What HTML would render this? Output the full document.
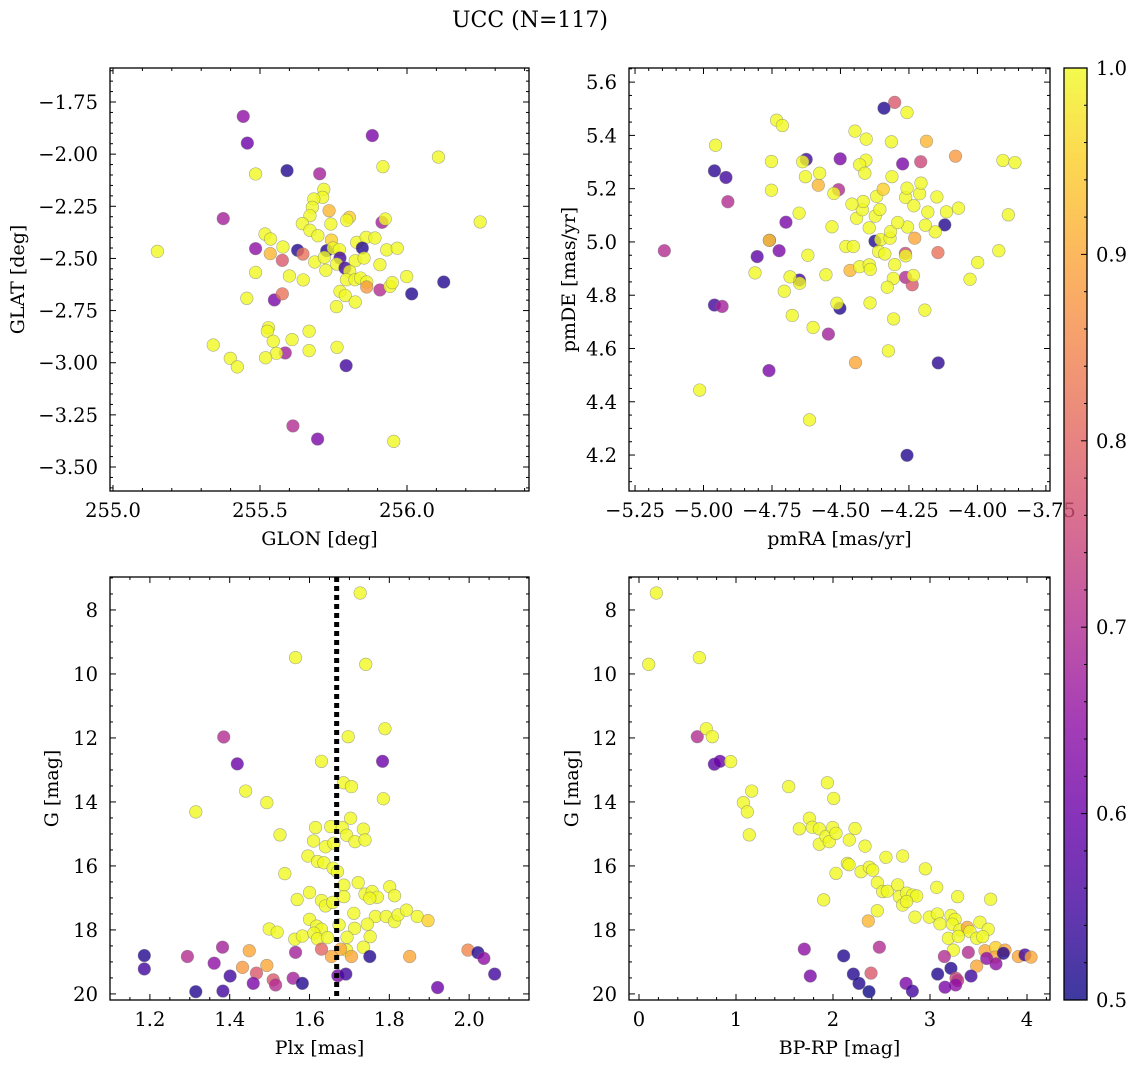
<!DOCTYPE html>
<html><head><meta charset="utf-8"><title>UCC chart</title>
<style>
html,body{margin:0;padding:0;background:#fff;}
svg{display:block;font-family:"DejaVu Serif","Liberation Serif",serif;}
</style></head>
<body>
<svg id="fig" width="1136" height="1067" viewBox="0 0 1136 1067" xmlns="http://www.w3.org/2000/svg">
<defs>
<linearGradient id="plasma" x1="0" y1="1" x2="0" y2="0">
<stop offset="0" stop-color="#0d0887"/><stop offset="0.1" stop-color="#41049d"/><stop offset="0.2" stop-color="#6a00a8"/><stop offset="0.3" stop-color="#8f0da4"/><stop offset="0.4" stop-color="#b12a90"/><stop offset="0.5" stop-color="#cc4778"/><stop offset="0.6" stop-color="#e16462"/><stop offset="0.7" stop-color="#f2844b"/><stop offset="0.8" stop-color="#fca636"/><stop offset="0.9" stop-color="#fcce25"/><stop offset="1" stop-color="#f0f921"/>
</linearGradient>
</defs>
<text x="530" y="27" font-size="22" text-anchor="middle">UCC (N=117)</text>
</svg>
<script>
// ---- Panel 1: GLON / GLAT ----
const glon = [255.443,255.457,255.882,256.107,255.918,255.485,255.592,255.703,255.717,255.713,255.683,255.678,255.735,255.670,255.644,255.741,255.804,255.795,255.915,255.926,256.249,255.375,255.151,255.517,255.536,255.485,255.535,255.578,255.576,255.628,255.646,255.670,255.697,255.743,255.727,255.749,255.770,255.829,255.861,255.891,255.848,255.931,255.967,255.686,255.719,255.724,255.772,255.761,255.789,255.824,255.854,255.908,255.805,255.794,255.823,255.842,255.863,255.863,255.908,255.942,255.950,255.999,256.125,256.016,255.485,255.600,255.647,255.455,255.549,255.576,255.772,255.790,255.824,255.760,255.529,255.525,255.667,255.609,255.545,255.341,255.586,255.556,255.519,255.399,255.423,255.667,255.762,255.793,255.612,255.696,255.955];
const glat = [-1.819,-1.947,-1.911,-2.014,-2.060,-2.095,-2.079,-2.094,-2.169,-2.207,-2.215,-2.255,-2.271,-2.295,-2.333,-2.335,-2.303,-2.317,-2.327,-2.311,-2.325,-2.309,-2.466,-2.383,-2.407,-2.453,-2.477,-2.445,-2.509,-2.461,-2.479,-2.365,-2.391,-2.412,-2.463,-2.450,-2.458,-2.423,-2.399,-2.402,-2.450,-2.459,-2.451,-2.517,-2.495,-2.557,-2.498,-2.527,-2.546,-2.511,-2.498,-2.530,-2.562,-2.602,-2.602,-2.594,-2.613,-2.637,-2.651,-2.634,-2.616,-2.587,-2.613,-2.670,-2.567,-2.584,-2.603,-2.691,-2.699,-2.670,-2.658,-2.678,-2.709,-2.731,-2.832,-2.849,-2.849,-2.889,-2.897,-2.915,-2.953,-2.955,-2.976,-2.979,-3.020,-2.942,-2.926,-3.014,-3.303,-3.366,-3.377];
const prob1 = [0.65,0.6,0.62,1,1,1,0.52,0.68,1,1,1,1,0.92,1,1,1,0.95,1,0.68,1,1,0.68,1,1,1,0.65,0.92,1,0.78,0.52,0.82,1,1,0.95,0.52,1,1,1,1,1,0.52,1,1,1,1,1,0.55,1,0.55,1,1,1,1,1,1,1,1,0.88,0.7,1,1,1,0.52,0.52,1,1,1,1,0.62,0.82,1,1,1,1,1,1,1,1,1,1,0.68,1,1,1,1,1,1,0.55,0.7,0.62,1];
// ---- Panel 2: pmRA / pmDE ----
const pmra = [-5.143,-4.960,-4.918,-4.911,-4.956,-4.960,-4.932,-5.014,-4.761,-4.613,-4.257,-4.143,-4.445,-4.325,-4.544,-4.600,-4.676,-4.306,-4.192,-4.392,-4.502,-4.513,-4.705,-4.650,-4.649,-4.684,-4.812,-4.553,-4.465,-4.430,-4.395,-4.391,-4.307,-4.329,-4.262,-4.238,-4.234,-4.302,-4.804,-4.724,-4.619,-4.759,-4.760,-4.699,-4.651,-4.531,-4.480,-4.453,-4.374,-4.353,-4.319,-4.317,-4.361,-4.338,-4.263,-4.262,-4.229,-4.144,-4.119,-4.154,-4.190,-4.255,-4.291,-4.395,-4.373,-4.441,-4.420,-4.417,-4.458,-4.356,-4.368,-4.344,-4.312,-4.262,-4.257,-4.232,-4.211,-4.206,-4.181,-4.148,-4.113,-4.069,-3.999,-4.027,-3.922,-3.887,-3.907,-3.863,-4.080,-4.186,-4.207,-4.273,-4.257,-4.302,-4.341,-4.314,-4.447,-4.406,-4.407,-4.430,-4.411,-4.501,-4.507,-4.524,-4.581,-4.576,-4.628,-4.625,-4.638,-4.752,-4.752,-4.733,-4.712];
const pmde = [4.967,5.267,5.242,5.151,5.363,4.763,4.758,4.444,4.517,4.332,4.199,4.546,4.547,4.591,4.654,4.679,4.724,4.711,4.744,4.771,4.751,4.770,4.815,4.857,4.845,4.869,4.884,4.877,4.893,4.907,4.914,4.897,4.863,4.830,4.867,4.839,4.874,4.915,4.945,4.967,4.950,5.006,5.006,5.074,5.108,5.057,4.983,4.983,5.003,5.009,5.014,5.039,4.964,4.955,4.957,4.948,5.014,4.960,5.064,5.038,5.063,5.056,5.073,5.053,5.097,5.089,5.121,5.152,5.142,5.122,5.171,5.198,5.245,5.167,5.202,5.136,5.181,5.221,5.112,5.169,5.113,5.127,4.923,4.860,4.967,5.102,5.306,5.298,5.322,5.378,5.301,5.293,5.486,5.524,5.502,5.376,5.416,5.386,5.307,5.290,5.258,5.312,5.196,5.182,5.213,5.258,5.245,5.310,5.301,5.302,5.194,5.457,5.437];
const prob2 = [0.7,0.53,0.55,0.7,1,0.55,0.68,1,0.62,1,0.52,0.53,0.9,1,0.68,1,1,1,1,1,0.52,1,1,0.55,1,1,1,1,0.92,1,1,1,1,1,0.7,0.78,1,1,0.58,0.62,1,0.65,0.95,0.62,1,1,1,1,0.52,1,1,1,1,1,0.75,1,0.9,0.82,0.52,1,1,1,1,1,1,1,1,1,1,1,1,0.95,1,1,1,1,1,1,1,1,1,1,1,1,1,1,1,1,0.88,0.92,0.75,0.62,1,0.78,0.52,1,1,1,1,1,1,0.62,0.7,1,0.92,1,1,0.55,1,1,1,1,1];
// ---- Panel 3: Plx / G ----
const plx = [1.727,1.565,1.741,1.385,1.419,1.789,1.697,1.783,1.630,1.440,1.493,1.315,1.785,1.685,1.705,1.526,1.615,1.653,1.682,1.703,1.735,1.693,1.714,1.739,1.610,1.640,1.661,1.596,1.620,1.636,1.659,1.670,1.538,1.686,1.722,1.739,1.757,1.770,1.801,1.813,1.751,1.600,1.569,1.630,1.640,1.658,1.686,1.711,1.765,1.792,1.813,1.822,1.843,1.870,1.897,1.600,1.618,1.630,1.674,1.713,1.745,1.499,1.519,1.563,1.582,1.611,1.620,1.645,1.694,1.752,1.735,1.693,1.678,1.655,1.705,1.630,1.565,1.751,1.851,1.997,2.022,2.037,2.064,1.921,1.186,1.186,1.294,1.382,1.361,1.449,1.432,1.493,1.401,1.467,1.459,1.509,1.515,1.559,1.582,1.315,1.383,1.671,1.691];
const gmag3 = [7.47,9.49,9.70,11.97,12.81,11.71,11.96,12.73,12.73,13.66,14.02,14.31,13.90,13.40,13.52,15.03,14.80,14.77,14.80,14.51,14.85,15.04,15.24,15.19,15.22,15.40,15.29,15.69,15.86,15.90,16.07,16.18,16.24,16.60,16.52,16.88,16.80,16.98,16.65,16.93,17.01,16.83,17.05,17.08,17.25,17.14,16.96,17.48,17.58,17.58,17.74,17.53,17.38,17.58,17.71,17.67,17.88,17.98,17.84,17.95,17.82,17.97,18.07,18.29,18.19,18.10,18.28,18.24,18.23,18.21,18.54,18.63,18.60,18.83,18.83,18.60,18.70,18.83,18.83,18.63,18.71,18.89,19.38,19.80,18.80,19.22,18.83,18.54,19.04,18.65,19.17,19.11,19.44,19.35,19.67,19.56,19.72,19.51,19.67,19.93,19.91,19.43,19.38];
const prob3 = [1,1,1,0.7,0.6,1,1,0.6,1,1,1,1,1,1,1,1,1,1,1,1,1,1,1,1,1,1,1,1,1,1,1,1,1,1,1,1,1,1,1,1,1,1,1,1,1,1,1,1,1,1,1,1,1,1,0.95,1,1,1,1,1,1,1,1,1,1,1,1,1,1,1,1,1,0.9,0.9,0.9,0.8,0.68,0.52,0.9,0.85,0.52,0.65,0.55,0.6,0.52,0.55,0.7,0.68,0.65,0.9,0.88,0.9,0.55,0.78,0.62,0.78,0.7,0.68,0.52,0.52,0.55,0.62,0.55];
const plxLine = 1.668;
// ---- Panel 4: BP-RP / G ----
const bprp = [0.179,0.100,0.622,0.601,0.694,0.756,0.777,0.835,0.945,1.076,1.162,1.117,1.137,1.543,1.942,2.007,1.653,1.756,1.787,1.859,1.859,1.928,1.962,1.997,2.031,2.227,2.168,2.330,2.546,2.718,2.148,2.165,2.031,2.289,2.375,2.409,2.457,2.512,2.560,2.667,2.684,2.759,2.821,2.863,2.718,2.759,2.952,3.069,1.904,2.457,2.364,2.845,2.993,3.076,3.103,3.216,3.258,3.230,3.285,3.309,3.189,3.292,3.385,3.412,3.481,3.515,3.601,3.543,3.625,3.241,3.567,3.677,3.773,3.670,3.756,3.911,3.979,4.041,3.481,3.584,3.680,3.395,3.148,3.216,3.079,3.268,3.285,3.264,3.155,3.423,1.704,1.766,2.110,2.210,2.268,2.371,2.392,2.478,2.753,2.818];
const gmag4 = [7.47,9.70,9.49,11.96,11.71,11.96,12.82,12.73,12.74,14.02,13.66,14.31,15.03,13.52,13.40,13.89,14.84,14.51,14.79,14.84,15.32,15.08,15.24,14.80,14.98,14.83,15.19,15.38,15.73,15.69,15.92,15.96,16.23,16.18,16.04,16.13,16.52,16.80,16.79,16.59,16.96,16.85,16.91,16.94,17.22,17.11,16.09,16.67,17.06,17.40,17.72,17.60,17.60,17.50,17.81,17.55,17.67,17.82,16.96,18.00,18.26,18.20,17.92,18.05,18.26,17.76,17.98,18.21,17.04,18.63,18.65,18.55,18.63,18.85,18.73,18.83,18.78,18.85,19.13,18.89,19.06,18.70,18.83,19.20,19.38,19.51,19.58,19.72,19.79,19.44,18.60,19.44,18.81,19.38,19.67,19.93,19.35,18.54,19.67,19.91];
const prob4 = [1,1,1,0.7,1,1,0.58,0.6,1,1,1,1,1,1,1,1,1,1,1,1,1,1,1,1,1,1,1,1,1,1,1,1,1,1,1,1,1,1,1,1,1,1,1,1,1,1,1,1,1,1,0.92,1,1,1,1,1,1,1,1,1,1,1,0.9,1,1,1,1,1,1,1,0.9,0.95,0.9,0.9,0.52,0.9,0.55,0.9,0.9,0.65,0.65,0.7,0.7,0.52,0.52,0.75,0.72,0.65,0.62,0.55,0.65,0.62,0.52,0.52,0.52,0.5,0.78,0.7,0.62,0.55];
// ---- tick labels ----
const p1xTicks = [255.0,255.5,256.0];
const p1yTicks = [-1.75,-2.00,-2.25,-2.50,-2.75,-3.00,-3.25,-3.50];
const p2xTicks = [-5.25,-5.00,-4.75,-4.50,-4.25,-4.00,-3.75];
const p2yTicks = [4.2,4.4,4.6,4.8,5.0,5.2,5.4,5.6];
const p3xTicks = [1.2,1.4,1.6,1.8,2.0];
const gTicks = [8,10,12,14,16,18,20];
const p4xTicks = [0,1,2,3,4];
const cbTicks = [0.5,0.6,0.7,0.8,0.9,1.0];

const NS = "http://www.w3.org/2000/svg";
const svg = document.getElementById('fig');
const TFS = 19.5, LFS = 19;
function mk(tag, attrs, parent){const e=document.createElementNS(NS,tag);for(const k in attrs)e.setAttribute(k,attrs[k]);(parent||svg).appendChild(e);return e;}
const stops=[[0,[13,8,135]],[0.1,[65,4,157]],[0.2,[106,0,168]],[0.3,[143,13,164]],[0.4,[177,42,144]],[0.5,[204,71,120]],[0.6,[225,100,98]],[0.7,[242,132,75]],[0.8,[252,166,54]],[0.9,[252,206,37]],[1,[240,249,33]]];
function plasma(p){let t=Math.max(0,Math.min(1,(p-0.5)/0.5));for(let i=0;i<stops.length-1;i++){const a=stops[i],b=stops[i+1];if(t<=b[0]){const f=(t-a[0])/(b[0]-a[0]);const c=a[1].map((v,j)=>Math.round(v+(b[1][j]-v)*f));return `rgb(${c[0]},${c[1]},${c[2]})`;}}return 'rgb(240,249,33)';}
function fmt(v,d){return (v<0?'\u2212':'')+Math.abs(v).toFixed(d);}

function panel(o){
  const g=mk('g',{});
  
  
  const sx=v=>o.x0+(v-o.xmin)/(o.xmax-o.xmin)*(o.x1-o.x0);
  const sy=o.yinv? v=>o.y0+(v-o.ymin)/(o.ymax-o.ymin)*(o.y1-o.y0) : v=>o.y1-(v-o.ymin)/(o.ymax-o.ymin)*(o.y1-o.y0);
  const pg=mk('g',{},g);
  
  
  for(let i=0;i<o.xs.length;i++){
    const c=mk('circle',{cx:sx(o.xs[i]),cy:sy(o.ys[i]),r:6.3,fill:plasma(o.ps[i]),'fill-opacity':0.8,stroke:'#777','stroke-opacity':0.6,'stroke-width':0.6},pg);
    
    
  }
  if(o.vline!==undefined){
    const l=mk('line',{x1:sx(o.vline),x2:sx(o.vline),y1:o.y0,y2:o.y1,stroke:'#000','stroke-width':5,'stroke-dasharray':'5,4'},g);
    
    
  }
  const tg=mk('g',{stroke:'#000','stroke-width':1},g);
  
  
  for(let v=Math.ceil(o.xmin/o.xminor-1e-6)*o.xminor; v<=o.xmax+1e-9; v+=o.xminor){
    const X=sx(v); if(X<o.x0-0.5||X>o.x1+0.5)continue;
    const major=o.xt.some(t=>Math.abs(t-v)<o.xminor/10);const L=major?6:3;
    mk('line',{x1:X,x2:X,y1:o.y1,y2:o.y1-L},tg);mk('line',{x1:X,x2:X,y1:o.y0,y2:o.y0+L},tg);
  }
  for(let v=Math.ceil(o.ymin/o.yminor-1e-6)*o.yminor; v<=o.ymax+1e-9; v+=o.yminor){
    const Y=sy(v); if(Y<o.y0-0.5||Y>o.y1+0.5)continue;
    const major=o.yt.some(t=>Math.abs(t-v)<o.yminor/10);const L=major?6:3;
    mk('line',{x1:o.x0,x2:o.x0+L,y1:Y,y2:Y},tg);mk('line',{x1:o.x1,x2:o.x1-L,y1:Y,y2:Y},tg);
  }
  mk('rect',{x:o.x0,y:o.y0,width:o.x1-o.x0,height:o.y1-o.y0,fill:'none',stroke:'#000','stroke-width':1.3},g);
  o.xt.forEach(v=>{const t=mk('text',{x:sx(v),y:o.y1+26,'font-size':TFS,'text-anchor':'middle'},g);t.textContent=fmt(v,o.xd);
    
    });
  o.yt.forEach(v=>{const t=mk('text',{x:o.x0-12,y:sy(v)+7,'font-size':TFS,'text-anchor':'end'},g);t.textContent=fmt(v,o.yd);
    
    });
  const xl=mk('text',{x:(o.x0+o.x1)/2,y:o.y1+54,'font-size':LFS,'text-anchor':'middle'},g);xl.textContent=o.xlabel;
  
  
  const yx=o.ylx, yy=(o.y0+o.y1)/2;
  const yl=mk('text',{x:yx,y:yy,'font-size':LFS,'text-anchor':'middle',transform:`rotate(-90 ${yx} ${yy})`},g);yl.textContent=o.ylabel;
  
  
}

panel({name:'panel-glon-glat',x0:110,x1:529,y0:68,y1:491,xmin:254.9898,xmax:256.415,ymin:-3.615,ymax:-1.587,xs:glon,ys:glat,ps:prob1,xt:p1xTicks,yt:p1yTicks,xminor:0.1,yminor:0.05,xd:1,yd:2,xlabel:'GLON [deg]',ylabel:'GLAT [deg]',ylx:24});
panel({name:'panel-pm',x0:629,x1:1050,y0:68,y1:491,xmin:-5.272,xmax:-3.735,ymin:4.065,ymax:5.653,xs:pmra,ys:pmde,ps:prob2,xt:p2xTicks,yt:p2yTicks,xminor:0.05,yminor:0.05,xd:2,yd:1,xlabel:'pmRA [mas/yr]',ylabel:'pmDE [mas/yr]',ylx:575});
panel({name:'panel-plx-g',x0:110,x1:529,y0:577,y1:1000,xmin:1.1,xmax:2.15,ymin:6.97,ymax:20.19,yinv:true,xs:plx,ys:gmag3,ps:prob3,xt:p3xTicks,yt:gTicks,xminor:0.05,yminor:0.5,xd:1,yd:0,xlabel:'Plx [mas]',ylabel:'G [mag]',ylx:58,vline:plxLine});
panel({name:'panel-cmd',x0:629,x1:1050,y0:577,y1:1000,xmin:-0.103,xmax:4.237,ymin:6.97,ymax:20.19,yinv:true,xs:bprp,ys:gmag4,ps:prob4,xt:p4xTicks,yt:gTicks,xminor:0.2,yminor:0.5,xd:0,yd:0,xlabel:'BP-RP [mag]',ylabel:'G [mag]',ylx:578});

const cb=mk('g',{});


const cy=v=>1000-(v-0.5)/0.5*932;
mk('rect',{x:1064,y:68,width:23,height:932,fill:'url(#plasma)','fill-opacity':0.8},cb);
for(let v=0.5;v<=1.0001;v+=0.02){const Y=cy(v);const major=cbTicks.some(t=>Math.abs(t-v)<0.002);mk('line',{x1:1087,x2:1087-(major?6:3),y1:Y,y2:Y,stroke:'#000','stroke-width':1},cb);}
mk('rect',{x:1064,y:68,width:23,height:932,fill:'none',stroke:'#000','stroke-width':1.3},cb);
cbTicks.forEach(v=>{const t=mk('text',{x:1096,y:cy(v)+7,'font-size':TFS},cb);t.textContent=v.toFixed(1);
  
  });
</script>
</body></html>
